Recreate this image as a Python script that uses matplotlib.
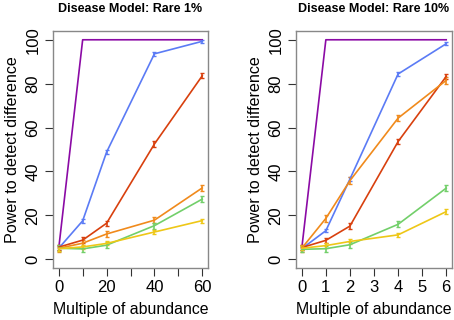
import matplotlib
matplotlib.use("Agg")
import matplotlib.pyplot as plt

plt.rcParams['font.family'] = ['Liberation Sans', 'DejaVu Sans']

titles = ["Disease Model: Rare 1%", "Disease Model: Rare 10%"]
x_left = [0, 10, 20, 40, 60]
x_right = [0, 1, 2, 4, 6]

colors = ["#8B0AA5", "#5B7BF5", "#D8400E", "#F08A1C", "#72CF6A", "#EEC717"]

left_series = [
    [5.0, 100, 100, 100, 100],
    [5.0, 17.5, 48.8, 93.6, 99.3],
    [5.5, 8.7, 16.4, 52.5, 83.6],
    [5.0, 7.3, 11.5, 17.8, 32.5],
    [5.0, 4.7, 6.4, 15.3, 27.4],
    [4.8, 5.6, 7.2, 12.4, 17.6],
]
right_series = [
    [5.0, 100, 100, 100, 100],
    [4.8, 13.0, 36.5, 84.4, 98.2],
    [5.3, 8.6, 15.1, 53.6, 83.3],
    [5.0, 18.6, 35.8, 64.3, 81.5],
    [4.5, 4.8, 6.6, 15.9, 32.4],
    [5.0, 6.2, 8.1, 11.1, 21.7],
]
left_err = [0, 0.8, 1.2, 1.5, 1.3, 0.9]
right_err = [0, 0.8, 1.2, 1.5, 1.4, 1.0]

fig = plt.figure(figsize=(4.54, 3.2), dpi=100)
ax1 = fig.add_axes([53/454, 52/320, 155/454, 237/320])
ax2 = fig.add_axes([296/454, 52/320, 156/454, 237/320])

panels = [
    (ax1, x_left, left_series, left_err, [0, 10, 20, 30, 40, 50, 60], ["0", "", "20", "", "40", "", "60"], (-2.4, 62.4)),
    (ax2, x_right, right_series, right_err, [0, 1, 2, 3, 4, 5, 6], ["0", "1", "2", "3", "4", "5", "6"], (-0.24, 6.24)),
]

for (ax, xs, series, errs, xt, xtl, xlim), title in zip(panels, titles):
    for ys, c, e in zip(series, colors, errs):
        if e > 0:
            ax.errorbar(xs, ys, yerr=e, color=c, lw=1.2, elinewidth=1.2, capsize=1.5, capthick=1.0)
        else:
            ax.plot(xs, ys, color=c, lw=1.2)
    ax.set_xlim(*xlim)
    ax.set_ylim(-4, 104)
    ax.set_xticks(xt)
    ax.set_xticklabels(xtl)
    ax.set_yticks([0, 20, 40, 60, 80, 100])
    ax.set_yticklabels(["0", "20", "40", "60", "80", "100"], rotation=90, va='center')
    ax.tick_params(axis='both', length=6, width=0.8, labelsize=12, direction='out', pad=3, color='#333333')
    for s in ax.spines.values():
        s.set_color('#888888')
        s.set_linewidth(1.0)
    ax.set_xlabel("Multiple of abundance", fontsize=11.4, labelpad=5)
    ax.set_ylabel("Power to detect difference", fontsize=11.6, labelpad=4)
    ax.set_title(title, fontsize=9, fontweight='bold', pad=13.5)

fig.savefig("out.png", dpi=100)
